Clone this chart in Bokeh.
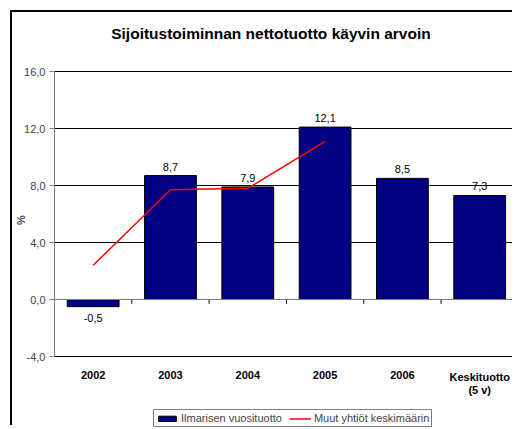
from bokeh.plotting import figure
from bokeh.models import Range1d, FixedTicker, Legend, LegendItem, ColumnDataSource, Span
from bokeh.embed import file_html
from bokeh.resources import INLINE

title = "Sijoitustoiminnan nettotuotto käyvin arvoin"
categories = ["2002", "2003", "2004", "2005", "2006", "Keskituotto\n(5 v)"]
ilmarinen = [-0.5, 8.7, 7.9, 12.1, 8.5, 7.3]
muut_years = ["2002", "2003", "2004", "2005"]
muut = [2.4, 7.7, 7.8, 11.1]
y_ticks = [-4, 0, 4, 8, 12, 16]

FONT = "Liberation Sans"

xpos = [i + 0.5 for i in range(len(categories))]
labels = [("%.1f" % v).replace(".", ",") for v in ilmarinen]
src = ColumnDataSource(dict(x=xpos, top=ilmarinen, lab=labels))
pos_idx = [i for i, v in enumerate(ilmarinen) if v >= 0]
neg_idx = [i for i, v in enumerate(ilmarinen) if v < 0]
src_pos = ColumnDataSource(dict(x=[xpos[i] for i in pos_idx], y=[ilmarinen[i] for i in pos_idx], lab=[labels[i] for i in pos_idx]))
src_neg = ColumnDataSource(dict(x=[xpos[i] for i in neg_idx], y=[ilmarinen[i] for i in neg_idx], lab=[labels[i] for i in neg_idx]))
mx = [categories.index(c) + 0.5 for c in muut_years]
bounds = list(range(1, len(categories)))
ymin, ymax = y_ticks[0], y_ticks[-1]

p = figure(width=502, height=415, output_backend="svg", toolbar_location=None,
           x_range=Range1d(0, 5.95), y_range=Range1d(-8.98, 20.14),
           x_axis_location=None,
           min_border_left=40, min_border_right=0, min_border_top=0, min_border_bottom=0)
p.styles = {"border-left": "2px solid black", "border-top": "2px solid black",
            "margin-left": "10px", "margin-top": "10px"}
p.outline_line_color = None
p.background_fill_color = "white"
p.border_fill_color = "white"

# chart title (drawn inside the canvas area above the plot)
p.text(x=[2.8], y=[18.67], text=[title], text_align="center", text_baseline="middle",
       text_font_size="15.5px", text_font={"value": FONT}, text_font_style="bold",
       text_color="#000000")

p.xgrid.grid_line_color = None
p.ygrid.ticker = FixedTicker(ticks=y_ticks)
p.ygrid.grid_line_color = "#000000"
p.ygrid.grid_line_width = 1

p.add_layout(Span(location=0, dimension="width", line_color="#808080", line_width=1))
p.segment(x0=bounds, x1=bounds, y0=[0] * len(bounds), y1=[-0.3] * len(bounds),
          line_color="#000000", line_width=1)

bars = p.vbar(x="x", top="top", bottom=0, width=0.67, source=src,
              fill_color="#000080", line_color="#000000", line_width=1)
line = p.line(mx, muut, line_color="#FF0000", line_width=1.5)

p.text(x="x", y="y", text="lab", source=src_pos, text_align="center", text_baseline="bottom",
       y_offset=-5, text_font_size="11px", text_font={"value": FONT}, text_color="#000000")
p.text(x="x", y="y", text="lab", source=src_neg, text_align="center", text_baseline="top",
       y_offset=7, text_font_size="11px", text_font={"value": FONT}, text_color="#000000")

# category labels below the plot area
p.text(x=xpos, y=[ymin] * len(xpos), text=categories, text_align="center", text_baseline="top",
       y_offset=14, text_font_size="11px", text_font={"value": FONT}, text_font_style="bold",
       text_color="#000000", text_line_height=1.15)

ya = p.yaxis[0]
ya.ticker = FixedTicker(ticks=y_ticks)
ya.bounds = (ymin, ymax)
ya.major_label_overrides = {t: ("%.1f" % t).replace(".", ",") for t in y_ticks}
ya.major_label_text_font = FONT
ya.major_label_text_font_size = "11px"
ya.axis_line_color = "#808080"
ya.major_tick_line_color = "#808080"
ya.major_tick_out = 5
ya.major_tick_in = 0
ya.minor_tick_line_color = None
ya.axis_label = "%"
ya.axis_label_text_font = FONT
ya.axis_label_text_font_size = "11px"
ya.axis_label_text_font_style = "bold"
ya.axis_label_standoff = -6
ya.major_label_standoff = 4

legend = Legend(items=[LegendItem(label="Ilmarisen vuosituotto", renderers=[bars]),
                       LegendItem(label="Muut yhtiöt keskimäärin", renderers=[line])],
                orientation="horizontal", location=(99, 0))
legend.label_text_font = FONT
legend.label_text_font_size = "11px"
legend.border_line_color = "#000000"
legend.border_line_width = 1
legend.background_fill_alpha = 1
legend.glyph_width = 22
legend.glyph_height = 7
legend.padding = 2
legend.spacing = 7
legend.label_standoff = 3
legend.margin = 0
legend.label_height = 10
p.add_layout(legend)

open("out.html", "w").write(file_html(p, INLINE))
